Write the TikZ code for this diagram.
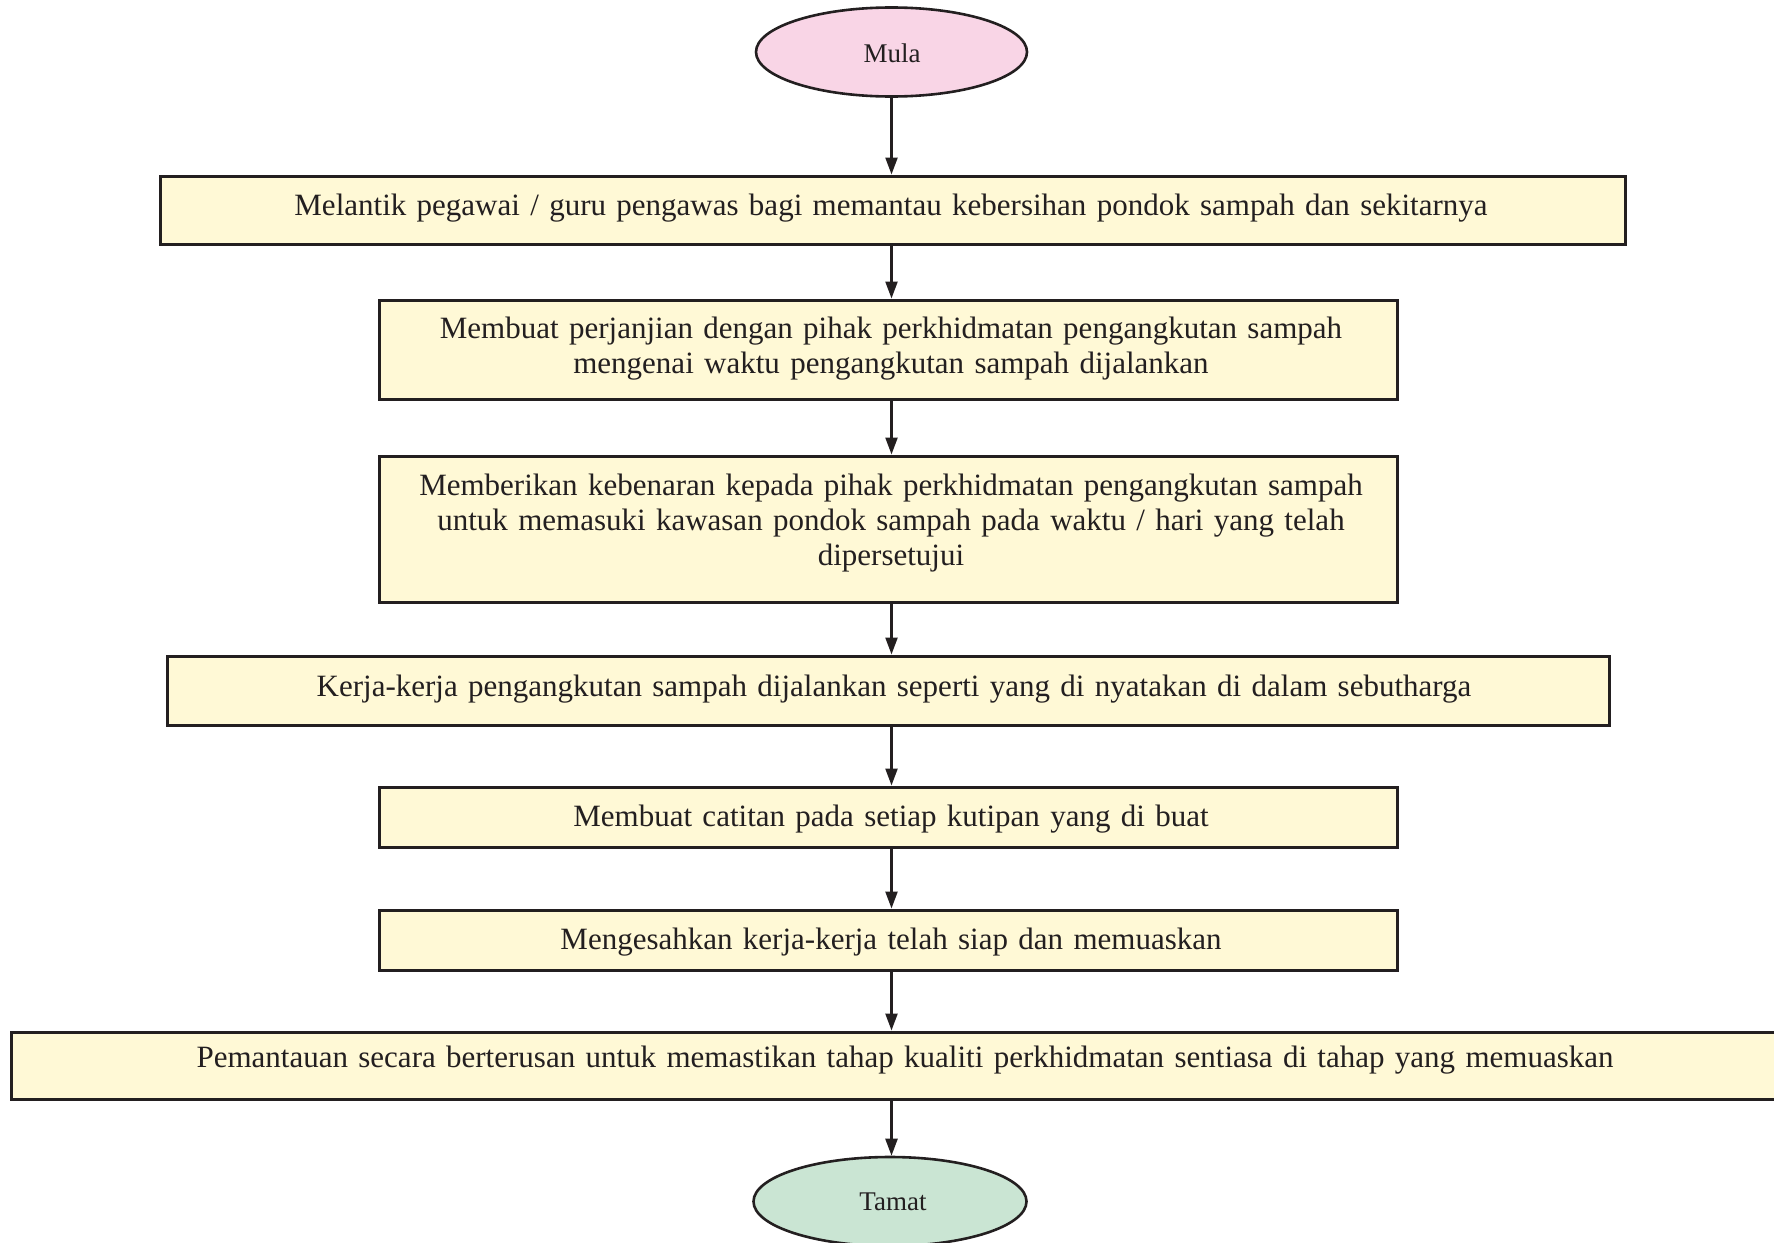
\documentclass[tikz,border=0pt]{standalone}
\usepackage{fontspec}
\setmainfont{Liberation Serif}
\usetikzlibrary{arrows.meta,shapes.geometric}
\definecolor{inkdark}{HTML}{231F20}
\definecolor{startpink}{HTML}{F9D5E6}
\definecolor{stepyellow}{HTML}{FFF9D6}
\definecolor{endgreen}{HTML}{CAE5D3}
\begin{document}
\begin{tikzpicture}[x=1pt,y=-1pt,
  stepbox/.style={draw=inkdark,line width=3pt,fill=stepyellow,rectangle,inner sep=0pt},
  terminal/.style={draw=inkdark,line width=2.6pt,ellipse,inner sep=0pt,minimum width=271pt,minimum height=89pt},
  label/.style={text=inkdark,font=\fontsize{31}{35}\selectfont,anchor=base,inner sep=0pt,align=center,text width=1700pt},
  termlabel/.style={label,font=\fontsize{27}{32}\selectfont},
  flow/.style={draw=inkdark,line width=2.4pt,-{Triangle[length=17pt,width=12pt]}}]
\useasboundingbox (0,0) rectangle (1774,1242);
% terminals
\node[terminal,fill=startpink] (mula) at (891.5,52) {};
\node[termlabel] at (892,62) {Mula};
\node[terminal,fill=endgreen,minimum width=273pt] (tamat) at (890,1201.5) {};
\node[termlabel] at (893,1210) {Tamat};
% process steps
\node[stepbox,minimum width=1465pt,minimum height=68pt] (s1) at (892.5,210) {};
\node[stepbox,minimum width=1018pt,minimum height=99pt] (s2) at (888,349.5) {};
\node[stepbox,minimum width=1018pt,minimum height=146pt] (s3) at (888,529) {};
\node[stepbox,minimum width=1442pt,minimum height=69pt] (s4) at (888,690.5) {};
\node[stepbox,minimum width=1018pt,minimum height=60pt] (s5) at (888,817) {};
\node[stepbox,minimum width=1018pt,minimum height=60pt] (s6) at (888,940) {};
\node[stepbox,minimum width=1788pt,minimum height=67pt] (s7) at (905,1065.5) {};
% step texts
\node[label] (t1) at (891,215) {Melantik pegawai / guru pengawas bagi memantau kebersihan pondok sampah dan sekitarnya};
\node[label] (t2) at (891,338) {Membuat perjanjian dengan pihak perkhidmatan pengangkutan sampah\\mengenai waktu pengangkutan sampah dijalankan};
\node[label] (t3) at (891,495) {Memberikan kebenaran kepada pihak perkhidmatan pengangkutan sampah\\untuk memasuki kawasan pondok sampah pada waktu / hari yang telah\\dipersetujui};
\node[label] (t4) at (894,696) {Kerja-kerja pengangkutan sampah dijalankan seperti yang di nyatakan di dalam sebutharga};
\node[label] (t5) at (891,826) {Membuat catitan pada setiap kutipan yang di buat};
\node[label] (t6) at (891,949) {Mengesahkan kerja-kerja telah siap dan memuaskan};
\node[label] (t7) at (905,1067) {Pemantauan secara berterusan untuk memastikan tahap kualiti perkhidmatan sentiasa di tahap yang memuaskan};
% connectors
\draw[flow] (mula) -- (mula |- s1.north);
\draw[flow] (mula |- s1.south) -- (mula |- s2.north);
\draw[flow] (mula |- s2.south) -- (mula |- s3.north);
\draw[flow] (mula |- s3.south) -- (mula |- s4.north);
\draw[flow] (mula |- s4.south) -- (mula |- s5.north);
\draw[flow] (mula |- s5.south) -- (mula |- s6.north);
\draw[flow] (mula |- s6.south) -- (mula |- s7.north);
\draw[flow] (mula |- s7.south) -- (mula |- tamat.north);
\end{tikzpicture}
\end{document}
